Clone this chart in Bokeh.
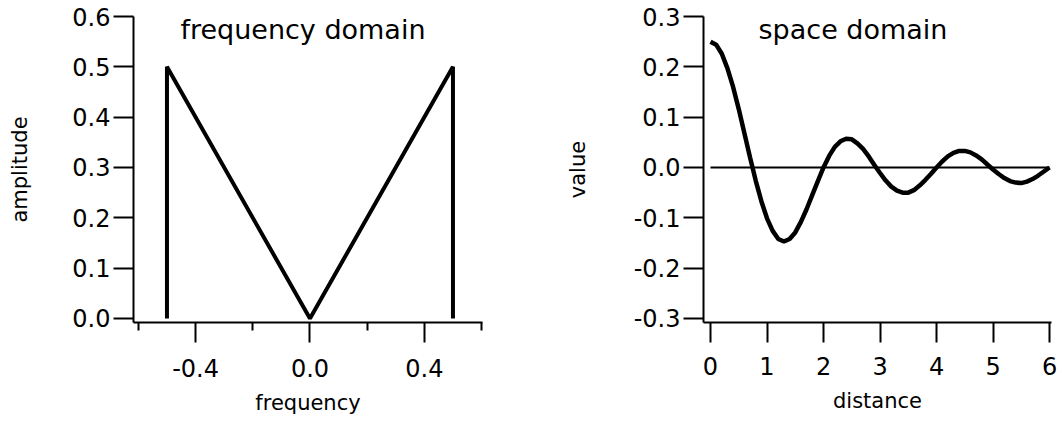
from bokeh.plotting import figure
from bokeh.layouts import row
from bokeh.models import FixedTicker, Label, Range1d, NumeralTickFormatter
from bokeh.embed import file_html
from bokeh.resources import INLINE

# ---------------- data ----------------
# frequency domain (ramp filter with cut-off walls)
freq = [-0.5, -0.5, 0.0, 0.5, 0.5]
amplitude = [0.0, 0.5, 0.0, 0.5, 0.0]

# space domain
distance = [0.0, 0.1, 0.2, 0.3, 0.4, 0.5, 0.6, 0.7, 0.8, 0.9,
            1.0, 1.1, 1.2, 1.3, 1.4, 1.5, 1.6, 1.7, 1.8, 1.9,
            2.0, 2.1, 2.2, 2.3, 2.4, 2.5, 2.6, 2.7, 2.8, 2.9,
            3.0, 3.1, 3.2, 3.3, 3.4, 3.5, 3.6, 3.7, 3.8, 3.9,
            4.0, 4.1, 4.2, 4.3, 4.4, 4.5, 4.6, 4.7, 4.8, 4.9,
            5.0, 5.1, 5.2, 5.3, 5.4, 5.5, 5.6, 5.7, 5.8, 5.9, 6.0]
value = [0.250, 0.244, 0.226, 0.197, 0.160, 0.116, 0.068, 0.020, -0.026, -0.067,
         -0.101, -0.126, -0.142, -0.147, -0.142, -0.129, -0.108, -0.083, -0.055, -0.027,
         0.000, 0.023, 0.041, 0.052, 0.057, 0.056, 0.048, 0.037, 0.022, 0.005,
         -0.011, -0.026, -0.038, -0.046, -0.050, -0.050, -0.045, -0.036, -0.025, -0.013,
         0.000, 0.012, 0.022, 0.029, 0.033, 0.033, 0.030, 0.024, 0.016, 0.006,
         -0.004, -0.013, -0.021, -0.027, -0.030, -0.031, -0.028, -0.023, -0.016, -0.008, 0.000]
zero_x = [0.0, 6.0]
zero_y = [0.0, 0.0]

# ticks
freq_major = [-0.4, 0.0, 0.4]
freq_minor = [-0.6, -0.2, 0.2, 0.6]
amp_ticks = [0.0, 0.1, 0.2, 0.3, 0.4, 0.5, 0.6]
dist_ticks = [0, 1, 2, 3, 4, 5, 6]
value_ticks = [-0.3, -0.2, -0.1, 0.0, 0.1, 0.2, 0.3]

# ---------------- style ----------------
FONT = "DejaVu Sans"
TICK_FS = "24px"
AXLAB_FS = "21px"
TITLE_FS = "27px"


def style(p):
    p.outline_line_color = None
    p.xgrid.grid_line_color = None
    p.ygrid.grid_line_color = None
    p.background_fill_color = "white"
    p.border_fill_color = "white"
    for ax in p.axis:
        ax.axis_line_width = 2
        ax.axis_line_color = "black"
        ax.major_tick_line_width = 2
        ax.minor_tick_line_width = 2
        ax.major_tick_line_color = "black"
        ax.minor_tick_line_color = "black"
        ax.major_tick_in = 0
        ax.major_tick_out = 20
        ax.minor_tick_in = 0
        ax.minor_tick_out = 8
        ax.major_label_text_font = FONT
        ax.major_label_text_font_size = TICK_FS
        ax.major_label_text_color = "black"
        ax.axis_label_text_font = FONT
        ax.axis_label_text_font_size = AXLAB_FS
        ax.axis_label_text_font_style = "normal"
        ax.axis_label_text_color = "black"


# ---------------- left: frequency domain ----------------
p1 = figure(frame_width=349, frame_height=306,
            min_border_left=133, min_border_right=58,
            min_border_top=16, min_border_bottom=101,
            x_range=Range1d(-0.617, 0.6033), y_range=Range1d(-0.008, 0.6),
            output_backend="svg", toolbar_location=None)
style(p1)
p1.line(freq, amplitude, line_width=4, color="black", line_join="bevel")
p1.xaxis.ticker = FixedTicker(ticks=freq_major, minor_ticks=freq_minor)
p1.yaxis.ticker = FixedTicker(ticks=amp_ticks)
p1.xaxis.formatter = NumeralTickFormatter(format="0.0")
p1.yaxis.formatter = NumeralTickFormatter(format="0.0")
p1.xaxis.axis_label = "frequency"
p1.yaxis.axis_label = "amplitude"
p1.xaxis.major_label_standoff = 16
p1.xaxis.axis_label_standoff = 11
p1.yaxis.major_label_standoff = 3
p1.yaxis.axis_label_standoff = 37
p1.add_layout(Label(x=-0.453, y=0.575, text="frequency domain",
                    text_font=FONT, text_font_size=TITLE_FS,
                    text_baseline="alphabetic", text_color="black"))

# ---------------- right: space domain ----------------
p2 = figure(frame_width=348, frame_height=306,
            min_border_left=163, min_border_right=11,
            min_border_top=16, min_border_bottom=101,
            x_range=Range1d(-0.124, 6.035), y_range=Range1d(-0.308, 0.3),
            output_backend="svg", toolbar_location=None)
style(p2)
p2.line(zero_x, zero_y, line_width=2, color="black")
p2.line(distance, value, line_width=4.5, color="black")
p2.xaxis.ticker = FixedTicker(ticks=dist_ticks)
p2.yaxis.ticker = FixedTicker(ticks=value_ticks)
p2.yaxis.formatter = NumeralTickFormatter(format="0.0")
p2.xaxis.axis_label = "distance"
p2.yaxis.axis_label = "value"
p2.xaxis.major_label_standoff = 14
p2.xaxis.axis_label_standoff = 11
p2.yaxis.major_label_standoff = 3
p2.yaxis.axis_label_standoff = 41
p2.add_layout(Label(x=0.85, y=0.274, text="space domain",
                    text_font=FONT, text_font_size=TITLE_FS,
                    text_baseline="alphabetic", text_color="black"))

layout = row(p1, p2)
open("out.html", "w").write(file_html(layout, INLINE))
